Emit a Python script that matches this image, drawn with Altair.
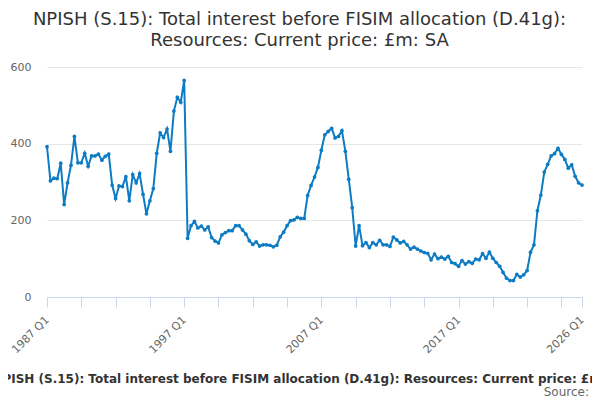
import altair as alt
import pandas as pd

# ---- data ----
start_year = 1987
values = [
    392, 303, 310, 309, 349, 241, 298, 344, 419, 350,
    350, 375, 341, 368, 368, 373, 357, 367, 373, 292,
    257, 290, 288, 314, 251, 319, 298, 322, 268, 217,
    251, 283, 375, 428, 416, 438, 380, 485, 521, 508,
    565, 153, 186, 197, 180, 185, 175, 183, 155, 146,
    141, 162, 168, 173, 173, 186, 186, 175, 164, 147,
    137, 144, 133, 136, 136, 135, 131, 135, 157, 169,
    186, 199, 201, 208, 205, 205, 265, 291, 313, 338,
    383, 423, 432, 440, 415, 419, 434, 380, 307, 233,
    133, 186, 134, 142, 129, 142, 136, 148, 136, 136,
    132, 156, 149, 141, 145, 136, 125, 130, 125, 120,
    116, 114, 97, 112, 100, 104, 99, 106, 90, 87,
    80, 95, 86, 92, 88, 99, 97, 113, 101, 117,
    101, 90, 80, 64, 49, 43, 43, 59, 52, 58,
    69, 117, 136, 225, 266, 326, 346, 368, 374, 388,
    372, 359, 336, 345, 315, 298, 292,
]
quarters = [f"{start_year + i // 4} Q{i % 4 + 1}" for i in range(len(values))]
tick_quarters = [quarters[i] for i in range(0, len(values), 10)] + [quarters[-1]]
labelled_quarters = ["1987 Q1", "1997 Q1", "2007 Q1", "2017 Q1", "2026 Q1"]
y_ticks = [0, 200, 400, 600]

title_lines = [
    "NPISH (S.15): Total interest before FISIM allocation (D.41g):",
    "Resources: Current price: £m: SA",
]
x_title = ("NPISH (S.15): Total interest before FISIM allocation (D.41g): "
           "Resources: Current price: £m: SA")
source_text = ["Source:"]

df = pd.DataFrame({"quarter": quarters, "value": values})

FONT = "DejaVu Sans"
BLUE = "#0d7cc4"

label_list = "[" + ",".join(f"'{q}'" for q in labelled_quarters) + "]"

x_enc = alt.X(
    "quarter:O",
    sort=None,
    scale=alt.Scale(type="point", padding=0),
    axis=alt.Axis(
        values=tick_quarters,
        labelExpr=f"indexof({label_list}, datum.value) >= 0 ? datum.value : ''",
        labelAngle=315,
        labelAlign="right",
        labelBaseline="middle",
        labelPadding=11,
        labelFont=FONT,
        labelFontSize=11,
        labelColor="#666666",
        labelOverlap=False,
        labelBound=False,
        domainColor="#ccd6eb",
        tickColor="#ccd6eb",
        tickSize=10,
        grid=False,
        title=x_title,
        titleFont=FONT,
        titleFontSize=12,
        titleFontWeight="bold",
        titleColor="#333333",
        titleX=263,
        titleY=81,
        titleAlign="center",
        titleBaseline="middle",
    ),
)
y_enc = alt.Y(
    "value:Q",
    scale=alt.Scale(domain=[0, 600], nice=False),
    axis=alt.Axis(
        values=y_ticks,
        title=None,
        domain=False,
        ticks=False,
        gridColor="#e6e6e6",
        labelFont=FONT,
        labelFontSize=11,
        labelColor="#666666",
        labelPadding=16,
    ),
)

base = alt.Chart(df).encode(x=x_enc, y=y_enc)
line = base.mark_line(color=BLUE, strokeWidth=2)
pts = base.mark_point(filled=True, size=14, color=BLUE, opacity=1)

src = alt.Chart(pd.DataFrame({"t": source_text})).mark_text(
    align="right", baseline="middle", font=FONT, fontSize=12, color="#666666"
).encode(x=alt.value(542), y=alt.value(325), text="t:N")

chart = (
    alt.layer(line, pts, src)
    .properties(
        width=535,
        height=230,
        autosize=alt.AutoSizeParams(type="none"),
        padding={"left": 39, "top": 59, "right": 10, "bottom": 104},
        title=alt.TitleParams(
            text=title_lines,
            font=FONT,
            fontSize=18,
            fontWeight="normal",
            color="#333333",
            anchor="middle",
            dx=-15,
            offset=11,
            lineHeight=21,
        ),
    )
    .configure_view(stroke=None)
)

chart.save("out.html", embed_options={"renderer": "svg", "actions": False})
